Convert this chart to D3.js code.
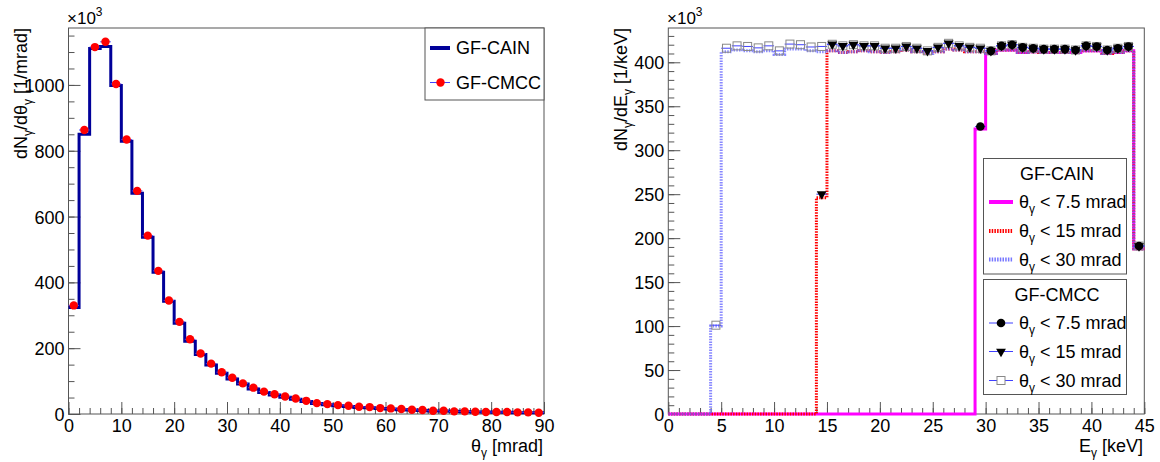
<!DOCTYPE html>
<html><head><meta charset="utf-8">
<script src="https://cdn.jsdelivr.net/npm/d3@7"></script>
<style>
body{margin:0;background:#fff}
svg{display:block}
text{font-family:"Liberation Sans",Arial,Helvetica,sans-serif;fill:#000}
</style>
</head><body>
<svg id="c" width="1160" height="462"></svg>
<script>
// ---------------- data: left panel (theta distribution, 2 mrad bins) ----------------
const thetaBinWidth = 2;
const thetaCAIN = [324, 850, 1111, 1117, 998, 829, 671, 537, 431, 343, 276, 221, 181, 149, 124,
  106, 91, 76, 65, 58, 51, 45, 38, 32, 28, 25, 23, 20, 19, 17,
  15, 13, 12, 11, 9, 9, 8, 7, 6, 6, 5, 5, 4, 4, 4];
const thetaCMCC = [330, 863, 1115, 1131, 1003, 834, 678, 542, 435, 345, 280, 227, 184, 153, 127,
  110, 93, 80, 68, 60, 53, 47, 40, 33, 30, 27, 25, 22, 21, 18,
  17, 15, 13, 12, 10, 10, 8, 8, 7, 6, 6, 6, 5, 5, 4];
const thetaTicks = [0, 10, 20, 30, 40, 50, 60, 70, 80, 90];
const thetaCountTicks = [0, 200, 400, 600, 800, 1000];

// ---------------- data: right panel (energy spectra, 1 keV bins) ----------------
const energyBinWidth = 1;
const cain30 = [0, 0, 0, 0, 100,
  412, 414, 413, 412, 413, 409, 415, 415, 413, 412,
  413, 411, 412, 413, 412, 411, 412, 414, 412, 410, 412, 415, 414, 412, 412,
  410, 414, 414, 411, 412, 411, 411, 411, 411, 413, 413, 410, 411, 413,
  188];
const cain15 = [0, 0, 0, 0, 0, 0, 0, 0, 0, 0, 0, 0, 0, 0, 246,
  413, 411, 412, 413, 412, 411, 412, 414, 412, 410, 412, 415, 414, 412, 412,
  410, 414, 414, 411, 412, 411, 411, 411, 411, 413, 413, 410, 411, 413,
  188];
const cain75 = [0, 0, 0, 0, 0, 0, 0, 0, 0, 0, 0, 0, 0, 0, 0,
  0, 0, 0, 0, 0, 0, 0, 0, 0, 0, 0, 0, 0, 0, 324,
  410, 414, 414, 411, 412, 411, 411, 411, 411, 413, 413, 410, 411, 413,
  188];
const cmcc30 = [null, null, null, null, 101,
  416, 418.7, 418, 416.4, 418.7, 413, 420.7, 420, 417.4, 418,
  420.5, 418.7, 420, 418.7, 418.7, 416, 416, 418, 416, 413, 417, 421.6, 418.7, 417, 416,
  413, 418.7, 420, 417, 416, 415, 415, 415, 414, 418.7, 418, 414, 416, 418,
  191];
const cmcc15 = [null, null, null, null, null, null, null, null, null, null, null, null, null, null, 250,
  420.5, 418.7, 420, 418.7, 418.7, 416, 416, 418, 416, 413, 417, 421.6, 418.7, 417, 416,
  413, 418.7, 420, 417, 416, 415, 415, 415, 414, 418.7, 418, 414, 416, 418,
  191];
const cmcc75 = [null, null, null, null, null, null, null, null, null, null, null, null, null, null, null,
  null, null, null, null, null, null, null, null, null, null, null, null, null, null, 327,
  413, 418.7, 420, 417, 416, 415, 415, 415, 414, 418.7, 418, 414, 416, 418,
  191];
const energyTicks = [0, 5, 10, 15, 20, 25, 30, 35, 40, 45];
const energyCountTicks = [0, 50, 100, 150, 200, 250, 300, 350, 400];

// ---------------- drawing ----------------
const svg = d3.select("#c");
svg.append("rect").attr("width", 1160).attr("height", 462).attr("fill", "#fff");
const FS = 18;
const frameCol = "#555";

function drawFrame(x, y, xMaj, xMinStep, yMaj, yMinStep, yMinMax) {
  const g = svg.append("g");
  const [x0, x1] = x.range();
  const [y0, y1] = y.range();
  const xMinors = d3.range(x.domain()[0], x.domain()[1] + 1e-9, xMinStep);
  const yMinors = d3.range(0, yMinMax + 1e-9, yMinStep);
  g.append("g").attr("transform", `translate(0,${y0})`)
    .call(d3.axisBottom(x).tickValues(xMinors).tickSize(-6).tickFormat(""));
  g.append("g").attr("transform", `translate(${x0},0)`)
    .call(d3.axisLeft(y).tickValues(yMinors).tickSize(-6).tickFormat(""));
  g.append("g").attr("transform", `translate(0,${y0})`)
    .call(d3.axisBottom(x).tickValues(xMaj).tickSize(-12).tickPadding(5).tickFormat(d3.format("d")));
  const ya = g.append("g").attr("transform", `translate(${x0},0)`)
    .call(d3.axisLeft(y).tickValues(yMaj).tickSize(-12).tickPadding(4).tickFormat(d3.format("d")));
  g.selectAll(".domain").remove();
  g.selectAll(".tick line").attr("stroke", frameCol).attr("stroke-width", 1);
  g.selectAll("text").attr("font-size", FS).attr("font-family", null).attr("fill", "#000");
  ya.selectAll("text").attr("dy", "0.36em");
  svg.append("rect").attr("x", x0).attr("y", y1).attr("width", x1 - x0).attr("height", y0 - y1)
    .attr("fill", "none").attr("stroke", frameCol).attr("stroke-width", 1);
}

function stepPath(x, y, values, bw) {
  const pts = values.map((v, i) => [i * bw, v]);
  pts.push([values.length * bw, values[values.length - 1]]);
  return d3.line().x(d => x(d[0])).y(d => y(d[1])).curve(d3.curveStepAfter)(pts);
}

function subText(sel, parts) {
  let shifted = false;
  parts.forEach(([t, sub]) => {
    const ts = sel.append("tspan").text(t);
    if (sub && !shifted) { ts.attr("dy", 5).attr("font-size", 12); shifted = true; }
    else if (!sub && shifted) { ts.attr("dy", -5); shifted = false; }
    else if (sub) { ts.attr("font-size", 12); }
  });
  return sel;
}

function exponent(x0) {
  const t = svg.append("text").attr("x", x0).attr("y", 24).attr("font-size", 17);
  t.append("tspan").text("×10");
  t.append("tspan").text("3").attr("dy", -8).attr("font-size", 12);
}

// ---------- LEFT PANEL ----------
const xL = d3.scaleLinear().domain([0, 90]).range([68.5, 544]);
const yL = d3.scaleLinear().domain([0, 1173]).range([414, 28]);
drawFrame(xL, yL, thetaTicks, 2, thetaCountTicks, 50, 1150);

svg.append("path").attr("d", stepPath(xL, yL, thetaCAIN, thetaBinWidth))
  .attr("fill", "none").attr("stroke", "#000099").attr("stroke-width", 3);
const gL = svg.append("g");
thetaCMCC.forEach((v, i) => {
  gL.append("line").attr("x1", xL(i * thetaBinWidth)).attr("x2", xL((i + 1) * thetaBinWidth))
    .attr("y1", yL(v)).attr("y2", yL(v)).attr("stroke", "#4040ff").attr("stroke-width", 1);
});
thetaCMCC.forEach((v, i) => {
  gL.append("circle").attr("cx", xL((i + 0.5) * thetaBinWidth)).attr("cy", yL(v)).attr("r", 4.2)
    .attr("fill", "#ff0000");
});
exponent(67);
subText(svg.append("text").attr("font-size", FS).attr("text-anchor", "end")
  .attr("transform", "translate(27,28) rotate(-90)"),
  [["dN", false], ["γ", true], ["/dθ", false], ["γ", true], [" [1/mrad]", false]]);
subText(svg.append("text").attr("font-size", FS).attr("text-anchor", "end")
  .attr("x", 543).attr("y", 452),
  [["θ", false], ["γ", true], [" [mrad]", false]]);

svg.append("rect").attr("x", 425).attr("y", 28).attr("width", 119).attr("height", 72)
  .attr("fill", "#fff").attr("stroke", frameCol).attr("stroke-width", 1);
svg.append("line").attr("x1", 430).attr("x2", 450).attr("y1", 48).attr("y2", 48)
  .attr("stroke", "#000099").attr("stroke-width", 4);
svg.append("text").attr("x", 456).attr("y", 48).attr("dy", "0.36em").attr("font-size", FS).text("GF-CAIN");
svg.append("line").attr("x1", 430).attr("x2", 450).attr("y1", 82.5).attr("y2", 82.5)
  .attr("stroke", "#4040ff").attr("stroke-width", 1);
svg.append("circle").attr("cx", 440.5).attr("cy", 82.5).attr("r", 4.2).attr("fill", "#ff0000");
svg.append("text").attr("x", 456).attr("y", 82.5).attr("dy", "0.36em").attr("font-size", FS).text("GF-CMCC");

// ---------- RIGHT PANEL ----------
const xR = d3.scaleLinear().domain([0, 45]).range([668.3, 1144.3]);
const yR = d3.scaleLinear().domain([0, 439]).range([414, 28]);
drawFrame(xR, yR, energyTicks, 1, energyCountTicks, 10, 430);

const styles = {
  c30: {stroke: "#6a6aff", width: 3, dash: "1.5,1.2"},
  c15: {stroke: "#ff0000", width: 3, dash: "1.5,1.2"},
  c75: {stroke: "#ff00ff", width: 3, dash: null}
};
[[cain75, styles.c75], [cain15, styles.c15], [cain30, styles.c30]].forEach(([vals, st]) => {
  svg.append("path").attr("d", stepPath(xR, yR, vals, energyBinWidth))
    .attr("fill", "none").attr("stroke", st.stroke).attr("stroke-width", st.width)
    .attr("stroke-dasharray", st.dash).attr("stroke-opacity", st === styles.c30 ? 0.8 : 1);
});

const gR = svg.append("g");
function errBars(vals) {
  vals.forEach((v, i) => {
    if (v == null) return;
    gR.append("line").attr("x1", xR(i * energyBinWidth)).attr("x2", xR((i + 1) * energyBinWidth))
      .attr("y1", yR(v)).attr("y2", yR(v)).attr("stroke", "#4040ff").attr("stroke-width", 1);
  });
}
errBars(cmcc30);
cmcc30.forEach((v, i) => {
  if (v == null) return;
  gR.append("rect").attr("x", xR((i + 0.5) * energyBinWidth) - 4).attr("y", yR(v) - 4)
    .attr("width", 8).attr("height", 8).attr("fill", "none").attr("stroke", "#888").attr("stroke-width", 1);
});
errBars(cmcc15);
const tri = d3.symbol(d3.symbolTriangle, 42);
cmcc15.forEach((v, i) => {
  if (v == null) return;
  gR.append("path").attr("d", tri())
    .attr("transform", `translate(${xR((i + 0.5) * energyBinWidth)},${yR(v)}) rotate(180)`)
    .attr("fill", "#000");
});
errBars(cmcc75);
cmcc75.forEach((v, i) => {
  if (v == null) return;
  gR.append("circle").attr("cx", xR((i + 0.5) * energyBinWidth)).attr("cy", yR(v)).attr("r", 4.3)
    .attr("fill", "#000");
});

exponent(667);
subText(svg.append("text").attr("font-size", FS).attr("text-anchor", "end")
  .attr("transform", "translate(627,28) rotate(-90)"),
  [["dN", false], ["γ", true], ["/dE", false], ["γ", true], [" [1/keV]", false]]);
subText(svg.append("text").attr("font-size", FS).attr("text-anchor", "end")
  .attr("x", 1143).attr("y", 452),
  [["E", false], ["γ", true], [" [keV]", false]]);

function legendBox(y0, h, title, entries) {
  svg.append("rect").attr("x", 983.5).attr("y", y0).attr("width", 143).attr("height", h)
    .attr("fill", "#fff").attr("stroke", frameCol).attr("stroke-width", 1);
  svg.append("text").attr("x", 1057).attr("y", y0 + 15).attr("dy", "0.36em")
    .attr("text-anchor", "middle").attr("font-size", FS).text(title);
  entries.forEach(e => {
    e.draw(e.y);
    subText(svg.append("text").attr("x", 1019).attr("y", e.y).attr("dy", "0.36em").attr("font-size", FS),
      [["θ", false], ["γ", true], [" < " + e.label, false]]);
  });
}
function legLine(yy, st, w) {
  svg.append("line").attr("x1", 989).attr("x2", 1013).attr("y1", yy).attr("y2", yy)
    .attr("stroke", st.stroke).attr("stroke-width", w).attr("stroke-dasharray", st.dash);
}
legendBox(158.5, 115.5, "GF-CAIN", [
  {y: 202, label: "7.5 mrad", draw: yy => legLine(yy, styles.c75, 4)},
  {y: 231, label: "15 mrad", draw: yy => legLine(yy, styles.c15, 4)},
  {y: 259.5, label: "30 mrad", draw: yy => legLine(yy, {stroke: "#7777ff", dash: "1.5,1.2"}, 4)}
]);
const blueThin = {stroke: "#4040ff", dash: null};
legendBox(279.5, 115, "GF-CMCC", [
  {y: 323, label: "7.5 mrad", draw: yy => { legLine(yy, blueThin, 1);
      svg.append("circle").attr("cx", 1001).attr("cy", yy).attr("r", 4.3).attr("fill", "#000"); }},
  {y: 351.5, label: "15 mrad", draw: yy => { legLine(yy, blueThin, 1);
      svg.append("path").attr("d", tri()).attr("transform", `translate(1001,${yy}) rotate(180)`).attr("fill", "#000"); }},
  {y: 380.5, label: "30 mrad", draw: yy => { legLine(yy, blueThin, 1);
      svg.append("rect").attr("x", 997).attr("y", yy - 4).attr("width", 8).attr("height", 8)
        .attr("fill", "#fff").attr("stroke", "#888"); }}
]);
</script>
</body></html>
